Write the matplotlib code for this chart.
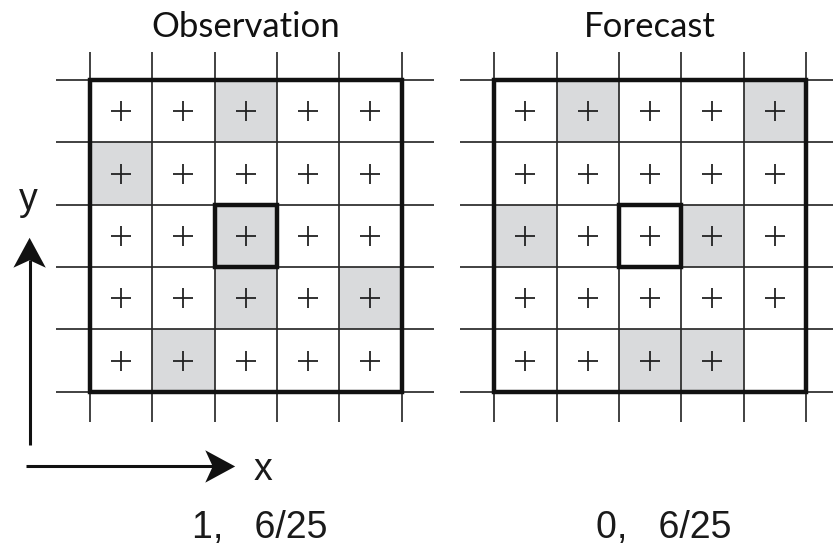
import matplotlib

matplotlib.use("Agg")

import matplotlib.pyplot as plt
import numpy as np
from matplotlib.colors import ListedColormap
from matplotlib.patches import Polygon, Rectangle

# 5x5 binary event fields, listed top row first
obs_field = [
    [0, 0, 1, 0, 0],
    [1, 0, 0, 0, 0],
    [0, 0, 1, 0, 0],
    [0, 0, 1, 0, 1],
    [0, 1, 0, 0, 0],
]
fcst_field = [
    [0, 1, 0, 0, 1],
    [0, 0, 0, 0, 0],
    [1, 0, 0, 1, 0],
    [0, 0, 0, 0, 0],
    [0, 0, 1, 1, 0],
]
# cells (col, row from bottom) printed without a grid-point cross
obs_no_cross = []
fcst_no_cross = [(4, 0)]

panel_titles = ["Observation", "Forecast"]
panel_offsets = [0.0, 6.49]

N = 5
SHADE = "#d9dadc"
LINE = "#2a2a2a"


def draw_arrow(ax, x0, y0, x1, y1, head_len=0.48, half_w=0.26, notch=0.12):
    d = np.array([x1 - x0, y1 - y0], dtype=float)
    d /= np.hypot(*d)
    n = np.array([-d[1], d[0]])
    tip = np.array([x1, y1])
    base = tip - head_len * d
    ax.plot([x0, base[0] + notch * d[0]], [y0, base[1] + notch * d[1]],
            color="#111111", lw=2.2, solid_capstyle="butt")
    head = [tip, base + half_w * n, base + notch * d, base - half_w * n]
    ax.add_patch(Polygon(head, closed=True, color="#111111", lw=0))


def draw_panel(ax, field, no_cross, x0, title):
    field = np.array(field)
    edges = np.arange(N + 1)
    ax.pcolormesh(x0 + edges, edges, field[::-1], cmap=ListedColormap(["white", SHADE]),
                  vmin=0, vmax=1, zorder=1)

    # grid lines run half a cell past the domain
    ax.vlines(x0 + edges, -0.49, N + 0.46, color=LINE, lw=1.25, zorder=2)
    ax.hlines(edges, x0 - 0.55, x0 + N + 0.52, color=LINE, lw=1.25, zorder=2)

    ax.add_patch(Rectangle((x0, 0), N, N, fill=False, ec="#111111", lw=3.2, zorder=3))
    c = N // 2
    ax.add_patch(Rectangle((x0 + c, c), 1, 1, fill=False, ec="#111111", lw=3.2, zorder=3))

    cols, rows = np.meshgrid(np.arange(N), np.arange(N))
    keep = np.ones_like(cols, dtype=bool)
    for col, row in no_cross:
        keep[row, col] = False
    ax.plot(x0 + cols[keep] + 0.5, rows[keep] + 0.5, "+", color="#222222",
            ms=14, mew=1.3, zorder=4)

    ax.text(x0 + 2.5, 5.85, title, ha="center", va="center", fontsize=25,
            family=["Lato", "DejaVu Sans"], color="#111111")

    center = field[::-1][c, c]
    score = f"{center},   {field.sum()}/{field.size}"
    ax.text(x0 + 2.72, -2.18, score, ha="center", va="center", fontsize=27,
            family=["Liberation Sans", "DejaVu Sans"], color="#1a1a1a")


fig = plt.figure(figsize=(8.33, 5.53), dpi=100)
ax = fig.add_axes([0, 0, 1, 1])
ax.set_xlim(-1.445, 11.926)
ax.set_ylim(-2.589, 6.287)
ax.axis("off")

for field, no_cross, x0, title in zip([obs_field, fcst_field], [obs_no_cross, fcst_no_cross],
                                      panel_offsets, panel_titles):
    draw_panel(ax, field, no_cross, x0, title)

# coordinate axes sketch
draw_arrow(ax, -0.97, -0.86, -0.97, 2.47)
draw_arrow(ax, -1.02, -1.20, 2.33, -1.20)
ax.text(-0.99, 3.08, "y", ha="center", va="center", fontsize=27,
        family=["Liberation Sans", "DejaVu Sans"], color="#1a1a1a")
ax.text(2.78, -1.26, "x", ha="center", va="center", fontsize=27,
        family=["Liberation Sans", "DejaVu Sans"], color="#1a1a1a")

fig.savefig("out.png", dpi=100)
